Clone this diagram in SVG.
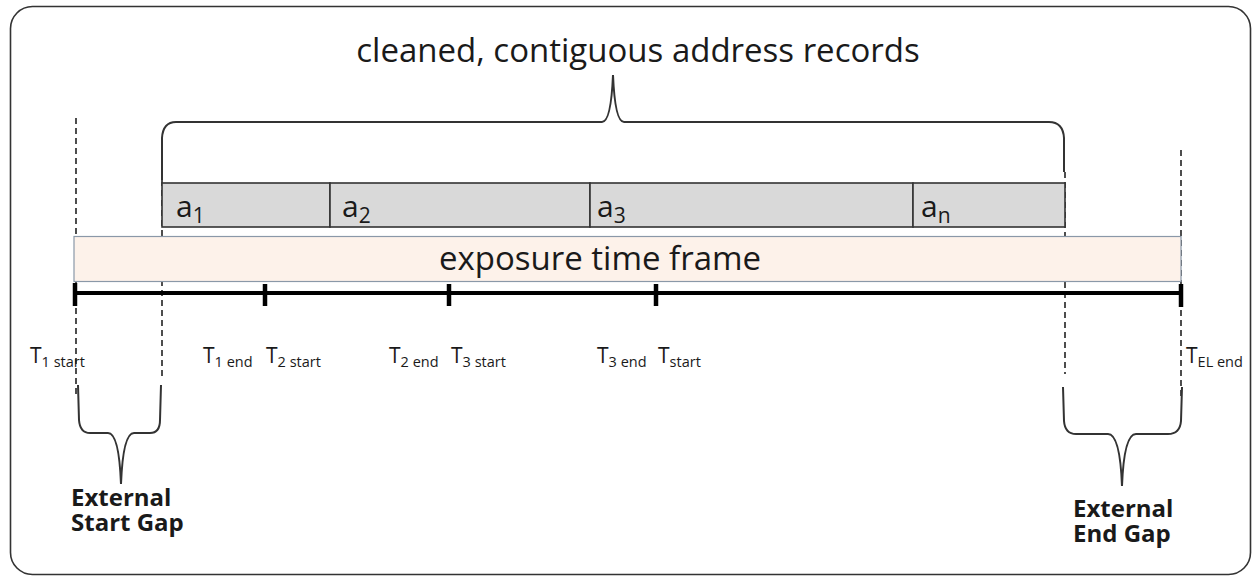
<svg xmlns="http://www.w3.org/2000/svg" width="1253" height="578" viewBox="0 0 1253 578">
  <style>
    .txt { font-family: "Open Sans", "Liberation Sans", sans-serif; fill: #1a1a1a; }
    .title { font-size: 33px; }
    .rec { font-size: 30px; }
    .rsub { font-size: 21px; }
    .tlab { font-size: 21px; }
    .sub { font-size: 14.5px; }
    .gap { font-size: 24px; font-weight: bold; }
    .dash { stroke: #222; stroke-width: 1.6; stroke-dasharray: 6 4; fill: none; }
    .brace { stroke: #333; stroke-width: 2; fill: none; }
    .cell { fill: #d9d9d9; stroke: #333; stroke-width: 1.6; }
    .tick { stroke: #000; stroke-width: 4.5; }
  </style>

  <!-- outer frame -->
  <rect x="10.5" y="6.5" width="1240" height="568" rx="22" ry="22" fill="#fff" stroke="#333" stroke-width="1.6"/>

  <!-- title -->
  <g id="title">
    <text class="txt title" x="638" y="62" text-anchor="middle">cleaned, contiguous address records</text>
  </g>

  <!-- connectors: braces and dashed guides -->
  <g id="connectors">
    <path class="brace" d="M162 180 L162 138 Q163 122 176 122 L602 122 Q611 122 613 75 Q615 122 624 122 L1049 122 Q1063 122 1064 138 L1064 172"/>
    <line class="dash" x1="76" y1="118" x2="76" y2="397"/>
    <line class="dash" x1="162" y1="180" x2="162" y2="380"/>
    <line class="dash" x1="1065" y1="172" x2="1065" y2="374"/>
    <line class="dash" x1="1181" y1="150" x2="1181" y2="397"/>
    <path class="brace" d="M78 385 L79 420 Q80 433 90 433 L108 433 Q119 433 121 484 Q123 433 134 433 L150 433 Q160 433 160 420 L161 385"/>
    <path class="brace" d="M1063 387 L1064 421 Q1065 434 1076 434 L1108 434 Q1120 434 1122 486 Q1124 434 1136 434 L1168 434 Q1180 434 1181 421 L1182 387"/>
  </g>

  <!-- address records bar -->
  <g id="records">
    <rect class="cell" x="162" y="183" width="168" height="44"/>
    <rect class="cell" x="330" y="183" width="260" height="44"/>
    <rect class="cell" x="590" y="183" width="323" height="44"/>
    <rect class="cell" x="913" y="183" width="152" height="44"/>
    <text class="txt rec" x="176" y="217">a<tspan class="rsub" dy="6">1</tspan></text>
    <text class="txt rec" x="342" y="217">a<tspan class="rsub" dy="6">2</tspan></text>
    <text class="txt rec" x="597" y="217">a<tspan class="rsub" dy="6">3</tspan></text>
    <text class="txt rec" x="921" y="217">a<tspan class="rsub" dy="6">n</tspan></text>
  </g>

  <!-- exposure time frame band -->
  <g id="exposure">
    <rect x="74" y="236.5" width="1107" height="45" fill="#fdf2ea" stroke="#8a98a8" stroke-width="1.2"/>
    <text class="txt" font-size="33" x="600" y="270" text-anchor="middle">exposure time frame</text>
  </g>

  <!-- timeline -->
  <g id="timeline">
    <line x1="74" y1="293" x2="1181" y2="293" stroke="#000" stroke-width="4"/>
    <line class="tick" x1="75" y1="283" x2="75" y2="306"/>
    <line class="tick" x1="265" y1="284" x2="265" y2="306"/>
    <line class="tick" x1="449" y1="284" x2="449" y2="306"/>
    <line class="tick" x1="656" y1="284" x2="656" y2="306"/>
    <line class="tick" x1="1181" y1="284" x2="1181" y2="307"/>
  </g>

  <!-- time labels -->
  <g id="labels">
    <text class="txt tlab" x="30" y="363">T<tspan class="sub" dy="4">1 start</tspan></text>
    <text class="txt tlab" x="203" y="363">T<tspan class="sub" dy="4">1 end</tspan></text>
    <text class="txt tlab" x="266" y="363">T<tspan class="sub" dy="4">2 start</tspan></text>
    <text class="txt tlab" x="389" y="363">T<tspan class="sub" dy="4">2 end</tspan></text>
    <text class="txt tlab" x="451" y="363">T<tspan class="sub" dy="4">3 start</tspan></text>
    <text class="txt tlab" x="597" y="363">T<tspan class="sub" dy="4">3 end</tspan></text>
    <text class="txt tlab" x="658" y="363">T<tspan class="sub" dy="4">start</tspan></text>
    <text class="txt tlab" x="1186" y="363">T<tspan class="sub" dy="4">EL end</tspan></text>
  </g>

  <!-- gap annotations -->
  <g id="start-gap">
    <text class="txt gap" x="71" y="506">External</text>
    <text class="txt gap" x="71" y="531">Start Gap</text>
  </g>
  <g id="end-gap">
    <text class="txt gap" x="1073" y="517">External</text>
    <text class="txt gap" x="1073" y="542">End Gap</text>
  </g>
</svg>
